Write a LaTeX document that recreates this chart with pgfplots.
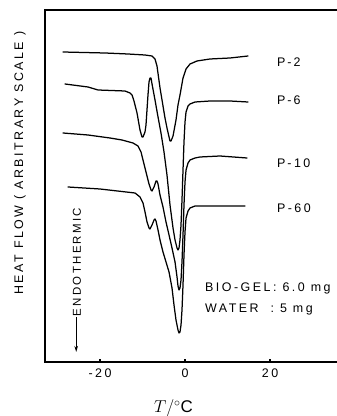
\documentclass[border=0pt]{standalone}
\usepackage{fontspec}
\setmainfont{Liberation Sans}
\newfontfamily\spfont[LetterSpace=20]{Liberation Sans}
\usepackage{pgfplots}
\usetikzlibrary{arrows.meta}
\pgfplotsset{compat=1.18}
\tikzset{curve/.style={draw=black, line width=1.25bp, line join=round, line cap=round, mark=none}}
\begin{document}
\begin{tikzpicture}
\useasboundingbox (0,0) rectangle (337bp,416bp);
\begin{axis}[
  at={(45bp,54bp)}, anchor=south west,
  scale only axis, width=292bp, height=352bp,
  xmin=-32.94, xmax=35.76, ymin=0, ymax=352,
  axis line style={draw=none},
  clip=false,
  xtick={-20,0,20}, xticklabels={-20,0,20},
  xtick pos=bottom, ytick=\empty,
  tick align=inside, major tick length=3bp,
  tick style={black, line width=1.2bp},
  xticklabel style={font=\fontsize{12.5}{14}\spfont, yshift=-3bp},
  xlabel={$T/{}^{\circ}\mathrm{C}$},
  xlabel style={at={(rel axis cs:0.44,-0.131)}, anchor=center, font=\fontsize{17}{19}\selectfont},
  ylabel={HEAT FLOW ( ARBITRARY SCALE )},
  ylabel style={at={(rel axis cs:-0.0856,0.565)}, anchor=center, font=\fontsize{12.5}{14}\spfont},
]
\draw[line width=1.2bp] (rel axis cs:1,1) -- (rel axis cs:0,1) -- (rel axis cs:0,0) -- (rel axis cs:1,0);
% P-2
\addplot[curve] coordinates {(-28.71,310) (-18.82,309) (-13.41,308) (-9.41,307) (-7.76,306) (-7.06,303) (-6.59,296) (-5.88,274) (-5.41,262) (-4.71,244) (-4.24,234) (-3.76,225) (-3.53,221) (-3.29,221) (-2.82,226) (-2.12,242) (-1.65,257) (-1.18,267) (-0.47,284) (0.24,293) (1.18,298) (2.82,301) (5.88,303) (10.59,304) (14.82,306)};
% P-6
\addplot[curve] coordinates {(-28.24,278) (-22.82,275) (-20.47,272) (-14.12,271) (-12.94,269) (-12.47,267) (-12.0,261) (-11.29,249) (-10.59,232) (-10.12,225) (-9.88,225) (-9.41,230) (-9.18,237) (-8.71,267) (-8.47,280) (-8.24,284) (-8.0,284) (-7.76,278) (-7.06,262) (-6.35,245) (-5.65,229) (-4.94,210) (-4.24,187) (-3.53,157) (-2.82,134) (-2.35,122) (-1.88,114) (-1.65,112) (-1.41,114) (-1.18,122) (-0.94,137) (-0.71,162) (-0.47,192) (-0.24,220) (0,240) (0.24,250) (0.71,256) (1.18,258) (2.35,260) (5.88,261) (10.59,261) (14.82,260)};
% P-10
\addplot[curve] coordinates {(-28.71,229) (-22.82,227) (-17.65,224) (-14.82,222) (-12.24,219) (-11.06,216) (-10.35,210) (-9.88,202) (-9.18,190) (-8.47,178) (-8.0,172) (-7.76,171) (-7.29,175) (-6.82,181) (-6.59,181) (-6.35,178) (-5.88,167) (-5.18,155) (-4.47,140) (-3.76,127) (-3.06,114) (-2.35,100) (-1.88,85) (-1.65,76) (-1.41,72) (-1.18,74) (-0.94,82) (-0.71,100) (-0.47,127) (-0.24,157) (0,180) (0.24,192) (0.71,199) (1.18,202) (2.35,204) (3.53,205) (8.24,206) (14.59,204)};
% P-60
\addplot[curve] coordinates {(-27.53,175) (-20,173) (-11.76,169) (-10.59,165) (-9.88,159) (-9.41,150) (-8.94,140) (-8.47,134) (-8.24,133) (-7.76,137) (-7.29,142) (-7.06,143) (-6.82,141) (-6.35,132) (-5.88,122) (-5.18,110) (-4.47,100) (-3.76,90) (-3.06,74) (-2.59,57) (-2.12,42) (-1.65,32) (-1.41,29) (-1.18,30) (-0.94,37) (-0.71,52) (-0.47,77) (-0.24,107) (0,130) (0.24,144) (0.71,151) (1.18,154) (2.35,156) (8.24,156) (14.12,156)};
\begin{scope}[every node/.style={font=\fontsize{12.5}{14}\spfont, anchor=west, inner sep=0pt}]
\node at (axis cs:21.6,300) {P\,-\,2};
\node at (axis cs:21.6,262) {P\,-\,6};
\node at (axis cs:21.6,199) {P\,-10};
\node at (axis cs:21.6,154) {P-60};
\node at (axis cs:4.7,74) {BIO-GEL: 6.0 mg};
\node at (axis cs:4.7,52) {WATER\ \ : 5 mg};
\node[anchor=center, rotate=90, font=\fontsize{11.5}{13}\spfont] at (axis cs:-25.4,100) {ENDOTHERMIC};
\end{scope}
\draw[-{Stealth[length=6bp,width=3.5bp]}, line width=1.2bp] (axis cs:-25.6,45) -- (axis cs:-25.6,10);
\end{axis}
\end{tikzpicture}
\end{document}
